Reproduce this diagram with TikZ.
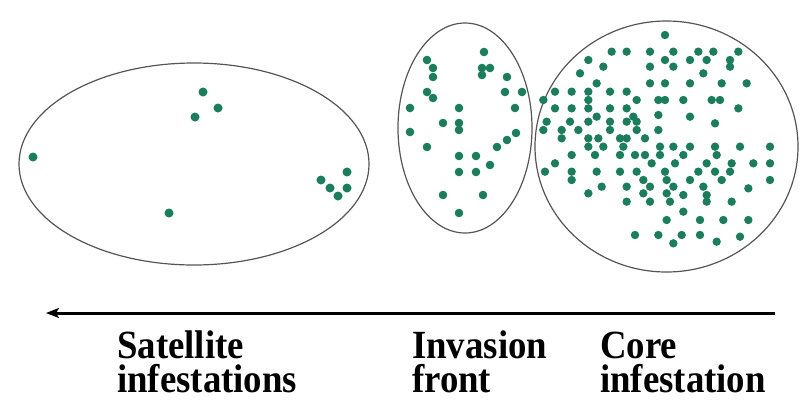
\documentclass[tikz,border=0pt]{standalone}
\usepackage{fontspec}
\newfontfamily\labfont[FakeStretch=0.92]{Liberation Serif}
\usetikzlibrary{shapes.geometric,arrows.meta}
\definecolor{dotc}{RGB}{28,125,92}
\definecolor{rimc}{RGB}{85,85,85}
\begin{document}
\begin{tikzpicture}[x=1pt,y=-1pt,
  zone/.style={ellipse,draw=rimc,line width=1.2pt,inner sep=0pt},
  lab/.style={font=\labfont\bfseries\fontsize{40}{34}\selectfont,align=left,anchor=base west,inner sep=0pt},
  spot/.style={fill=dotc}]
\useasboundingbox (0,0) rectangle (811,400);
% zones
\node[zone,minimum width=350pt,minimum height=202pt] (sat) at (194,164) {};
\node[zone,minimum width=134pt,minimum height=210pt] (inv) at (465,128) {};
\node[zone,minimum width=263pt,minimum height=251pt] (core) at (666.5,146.5) {};
% satellite dots
\foreach \a/\b in {203/92,218/108,195/117,33/157,169/213,347/172,321/180,330/188,347/188,338/196}
  \fill[spot] (\a,\b) circle (4.5pt);
% invasion front dots
\foreach \a/\b in {484/52,427/60,433/68,433/77,482/68,490/68,482/75,507/77,427/92,433/98,505/92,522/92,
  410/108,459/108,515/108,443/123,459/123,459/130,410/132,516/133,507/140,497/147,427/147,
  459/156,476/156,490/165,459/172,476/172,443/195,483/195,459/213}
  \fill[spot] (\a,\b) circle (4.3pt);
% core dots (measured at 3x around origin 530,20)
\foreach \a/\b in {405/45,
  245/95,290/95,360/95,430/95,505/95,550/95,625/95,
  175/120,405/120,480/120,530/120,600/120,
  220/140,360/140,430/140,600/140,
  150/160,520/160,
  200/190,360/190,405/190,480/190,575/190,650/190,
  75/215,125/215,175/215,240/215,290/215,
  40/240,175/240,320/240,385/240,405/240,460/240,545/240,570/240,
  75/265,125/265,175/265,240/265,290/265,625/265,
  200/290,310/290,385/285,480/290,
  50/305,120/305,175/305,240/305,290/305,320/305,555/310,
  40/330,95/330,145/330,240/330,320/330,385/330,
  95/355,175/355,205/355,270/355,290/355,345/355,
  175/380,220/380,280/380,390/380,430/380,480/380,555/380,630/380,720/380,
  125/405,195/405,270/405,315/405,345/405,390/405,460/405,560/405,
  75/430,365/430,435/430,530/430,605/430,670/430,720/430,
  45/455,125/455,200/455,270/455,320/455,405/455,505/455,555/455,600/455,
  125/480,340/480,410/480,480/480,575/480,720/480,
  215/500,290/500,360/500,430/500,520/500,655/505,
  175/520,340/520,410/520,460/525,530/525,
  290/545,360/545,420/545,530/545,605/545,
  460/575,
  410/600,510/600,580/600,655/600,
  315/645,385/645,455/645,510/645,630/650,
  430/670,560/665}
  \fill[spot] ({530+\a/3},{20+\b/3}) circle (4.2pt);
% spread arrow
\coordinate (from) at (775,313);
\coordinate (to) at (46,313);
\draw[line width=3pt,-{Stealth[length=13pt,width=10pt,inset=3pt]}] (from) -- (to);
% labels (anchored at the baseline of the second line)
\node[lab] (lsat) at (117,392) {Satellite\\infestations};
\node[lab] (linv) at (412,392) {Invasion\\front};
\node[lab] (lcore) at (600,392) {Core\\infestation};
\end{tikzpicture}
\end{document}
